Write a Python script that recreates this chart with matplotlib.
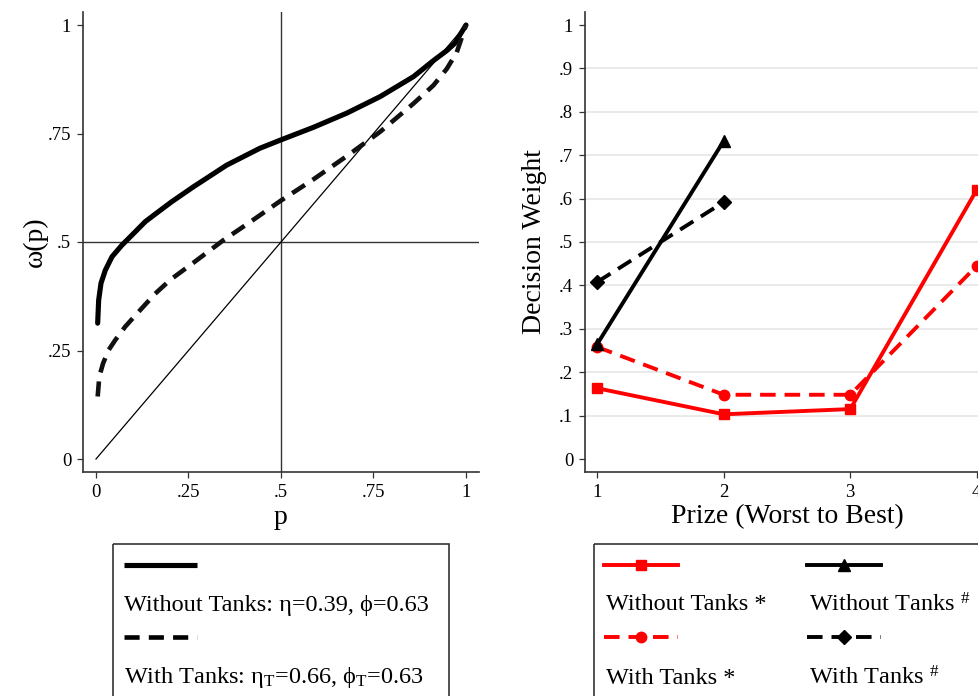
import matplotlib
matplotlib.use('Agg')
import matplotlib.pyplot as plt
from matplotlib.patches import Rectangle

plt.rcParams['font.family'] = ['Liberation Serif', 'DejaVu Serif']
plt.rcParams['mathtext.fontset'] = 'custom'
plt.rcParams['mathtext.rm'] = 'Liberation Serif'
plt.rcParams['mathtext.it'] = 'Liberation Serif:italic'
plt.rcParams['mathtext.bf'] = 'Liberation Serif:bold'

# ---------------- data ----------------
p_without = [0.0045, 0.0072, 0.0135, 0.0252, 0.0432, 0.0703, 0.0973, 0.1333, 0.169,
             0.205, 0.263, 0.353, 0.443, 0.499, 0.587, 0.678, 0.768, 0.858, 0.912,
             0.948, 0.970, 1.0]
w_without = [0.313, 0.366, 0.405, 0.435, 0.466, 0.493, 0.516, 0.547, 0.570,
             0.593, 0.627, 0.677, 0.716, 0.735, 0.764, 0.797, 0.835, 0.881, 0.918,
             0.941, 0.958, 1.0]
p_with = [0.0045, 0.009, 0.019, 0.034, 0.052, 0.079, 0.115, 0.160, 0.201, 0.263,
          0.344, 0.425, 0.499, 0.587, 0.678, 0.768, 0.858, 0.912, 0.948, 0.975, 1.0]
w_with = [0.144, 0.190, 0.220, 0.251, 0.274, 0.305, 0.339, 0.381, 0.413, 0.452,
          0.504, 0.551, 0.595, 0.644, 0.698, 0.754, 0.819, 0.861, 0.899, 0.937, 1.0]
diag = [0, 1]

left_ticks = [0, 0.25, 0.5, 0.75, 1]
left_ticklabels = ['0', '.25', '.5', '.75', '1']

prizes = [1, 2, 3, 4]
dw_without_star = [0.163, 0.103, 0.115, 0.620]
dw_with_star = [0.258, 0.148, 0.148, 0.445]
prizes_hash = [1, 2]
dw_without_hash = [0.265, 0.733]
dw_with_hash = [0.408, 0.592]

right_yticks = [0, .1, .2, .3, .4, .5, .6, .7, .8, .9, 1]
right_yticklabels = ['0', '.1', '.2', '.3', '.4', '.5', '.6', '.7', '.8', '.9', '1']
right_xticklabels = ['1', '2', '3', '4']

legend_left = ['Without Tanks: η=0.39, ϕ=0.63',
               'With Tanks: η${}_{\\mathrm{T}}$=0.66, ϕ${}_{\\mathrm{T}}$=0.63']
legend_right = ['Without Tanks *', 'With Tanks *',
                'Without Tanks ${}^{\\#}$', 'With Tanks ${}^{\\#}$']

# ---------------- figure ----------------
W, H = 979, 696
fig = plt.figure(figsize=(W / 100, H / 100), dpi=100)
fig.patch.set_facecolor('white')

spine_c = '#333333'
tick_fs = 13.5
lab_fs = 20


def style(ax):
    for s in ['top', 'right']:
        ax.spines[s].set_visible(False)
    for s in ['left', 'bottom']:
        ax.spines[s].set_color(spine_c)
        ax.spines[s].set_linewidth(1.2)
    ax.tick_params(direction='out', length=4.5, width=0.9, color=spine_c,
                   labelsize=tick_fs, pad=4)


# Left panel
ax1 = fig.add_axes([83 / W, (H - 472) / H, 396 / W, 460 / H])
style(ax1)
ax1.set_xlim(-13 / 370, 1 + 13 / 370)
ax1.set_ylim(-13 / 434, 1 + 13 / 434)
ax1.axvline(0.5, color='#333333', lw=1.0, zorder=1)
ax1.axhline(0.5, color='#333333', lw=1.0, zorder=1)
ax1.plot(diag, diag, color='black', lw=0.9, zorder=2)
ax1.plot(p_without, w_without, color='black', lw=3.7, solid_capstyle='round',
         solid_joinstyle='round', zorder=3)
ax1.plot(p_with, w_with, color='#111111', lw=3.3, ls=(0, (3.3, 2.0)),
         dash_joinstyle='round', zorder=3)
ax1.set_xticks(left_ticks)
ax1.set_xticklabels(left_ticklabels)
ax1.set_yticks(left_ticks)
ax1.set_yticklabels(left_ticklabels)
ax1.set_xlabel('p', fontsize=lab_fs)
ax1.set_ylabel('ω(p)', fontsize=lab_fs)
ax1.yaxis.set_label_coords(-0.121, 0.5)
ax1.yaxis.label.set_va('center')
ax1.xaxis.set_label_coords(0.5, -0.100)
ax1.xaxis.label.set_va('center')

# Right panel
ax2 = fig.add_axes([585 / W, (H - 472) / H, 404 / W, 460 / H])
style(ax2)
ax2.set_xlim(1 - 12.3 / 126.5, 4 + 12.3 / 126.5)
ax2.set_ylim(-13 / 434, 1 + 13 / 434)
for g in right_yticks[1:-1]:
    ax2.axhline(g, color='#e8e8e8', lw=1.3, zorder=0)
dash = (0, (4.0, 2.3))
ax2.plot(prizes, dw_with_star, color='red', lw=2.8, ls=dash, marker='o', ms=7.5,
         zorder=3, clip_on=False)
ax2.plot(prizes, dw_without_star, color='red', lw=2.8, marker='s', ms=7.5,
         zorder=3, clip_on=False)
ax2.plot(prizes_hash, dw_with_hash, color='black', lw=2.8, ls=dash, marker='D',
         ms=7, zorder=4)
ax2.plot(prizes_hash, dw_without_hash, color='black', lw=2.8, marker='^', ms=8,
         zorder=4)
ax2.set_xticks(prizes)
ax2.set_xticklabels(right_xticklabels)
ax2.set_yticks(right_yticks)
ax2.set_yticklabels(right_yticklabels)
ax2.set_xlabel('Prize (Worst to Best)', fontsize=lab_fs)
ax2.set_ylabel('Decision Weight', fontsize=lab_fs)
ax2.yaxis.set_label_coords(-0.124, 0.5)
ax2.yaxis.label.set_va('center')
ax2.xaxis.set_label_coords(0.502, -0.098)
ax2.xaxis.label.set_va('center')

# ---------------- legends (overlay in pixel coordinates) ----------------
ov = fig.add_axes([0, 0, 1, 1])
ov.set_xlim(0, W)
ov.set_ylim(H, 0)
ov.axis('off')
leg_fs = 17.5

ov.add_patch(Rectangle((113, 544), 336, 300, fill=False, ec='#333333', lw=1.2))
ov.plot([124, 197], [565, 565], color='black', lw=3.7, solid_capstyle='butt')
ov.text(124, 605, legend_left[0], fontsize=leg_fs, va='center', ha='left')
ov.plot([124, 197], [637, 637], color='black', lw=3.3, ls=(0, (3.3, 2.0)))
ov.text(124, 678, legend_left[1], fontsize=leg_fs, va='center', ha='left')

ov.add_patch(Rectangle((594, 544), 500, 300, fill=False, ec='#333333', lw=1.2))
ov.plot([604, 678], [565, 565], color='red', lw=2.8)
ov.plot([641], [565], color='red', marker='s', ms=7.5)
ov.text(606, 605, legend_right[0], fontsize=leg_fs, va='center', ha='left')
ov.plot([604, 678], [637, 637], color='red', lw=2.8, ls=dash)
ov.plot([641], [637], color='red', marker='o', ms=7.5)
ov.text(606, 678, legend_right[1], fontsize=leg_fs, va='center', ha='left')

ov.plot([807, 881], [565, 565], color='black', lw=2.8)
ov.plot([844], [565], color='black', marker='^', ms=8)
ov.text(809, 605, legend_right[2], fontsize=leg_fs, va='center', ha='left')
ov.plot([807, 881], [637, 637], color='black', lw=2.8, ls=dash)
ov.plot([844], [637], color='black', marker='D', ms=7)
ov.text(809, 678, legend_right[3], fontsize=leg_fs, va='center', ha='left')

fig.savefig('out.png', dpi=100)
